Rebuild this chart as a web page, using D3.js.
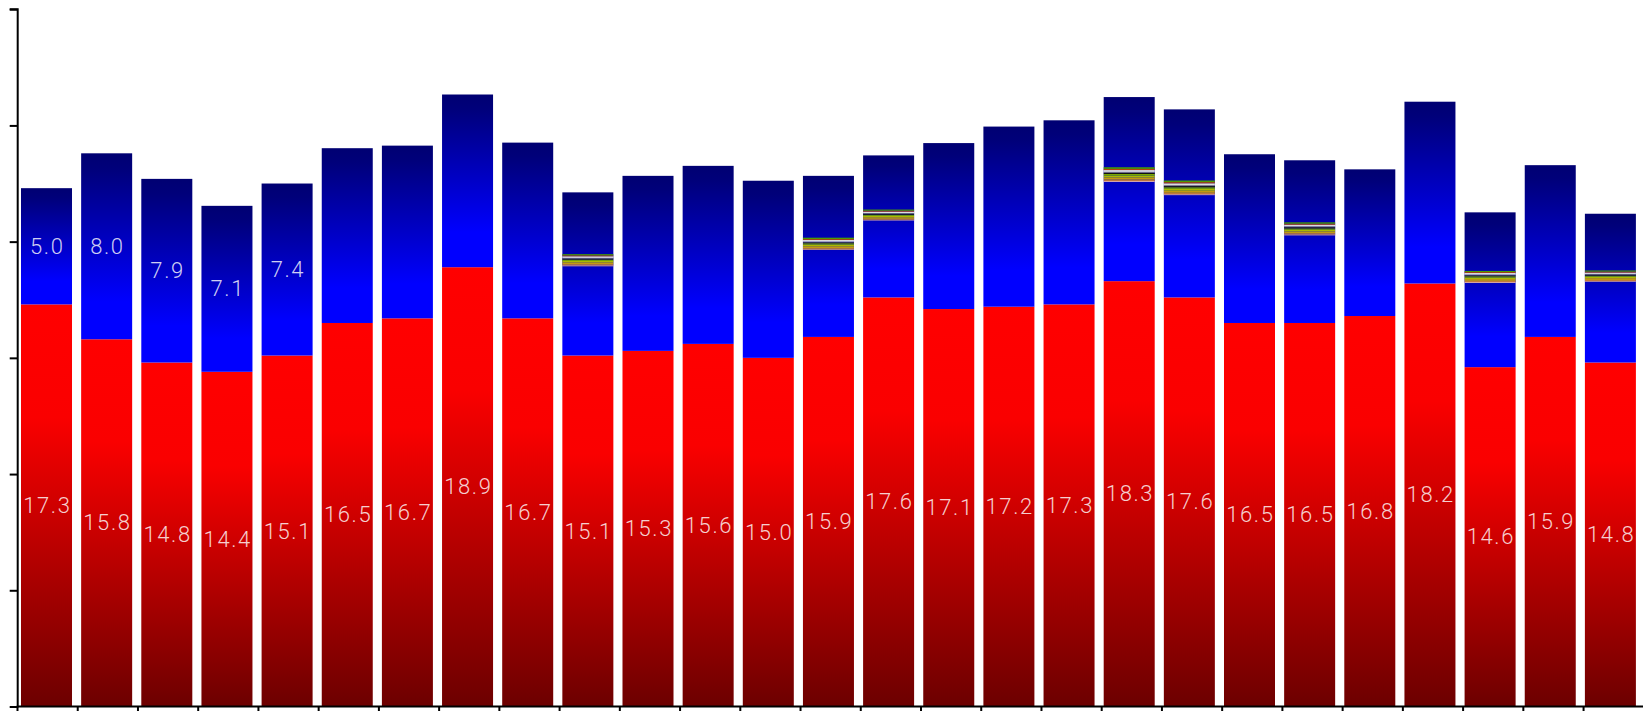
<!DOCTYPE html>
<html>
<head>
<meta charset="utf-8">
<script src="https://cdn.jsdelivr.net/npm/d3@7"></script>
<style>
  html, body { margin: 0; padding: 0; background: #fff; overflow: hidden; }
  svg { display: block; }
  .lbl { font-family: Roboto, "Noto Sans", sans-serif; font-weight: 300; font-size: 22px; fill: #fff; fill-opacity: 0.82; letter-spacing: 1.6px; }
</style>
</head>
<body>
<svg id="chart" width="1643" height="711"></svg>
<script>
// ---------- data ----------
const categories = d3.range(1, 28).map(i => "Item " + i);
const redValues = [17.3,15.8,14.8,14.4,15.1,16.5,16.7,18.9,16.7,15.1,15.3,15.6,15.0,15.9,17.6,17.1,17.2,17.3,18.3,17.6,16.5,16.5,16.8,18.2,14.6,15.9,14.8];
const blueValues = [5.0,8.0,7.9,7.14,7.4,7.52,7.43,7.43,7.56,6.5,7.53,7.66,7.62,6.4,5.64,7.14,7.75,7.92,7.29,7.46,7.26,6.44,6.31,7.82,6.14,7.39,5.91];
const blueLabelCount = 5; // blue values labelled on the first bars only
// part of the blue value lying below the thin stripe series (null = no stripes)
const blueBelowStripes = [null,null,null,null,null,null,null,null,null,3.84,null,null,null,3.74,3.31,null,null,null,4.27,4.40,null,3.77,null,null,3.62,null,3.47];
// thin series, listed bottom to top
const stripeJ = [0,0,0,0,0,0,0,0,0,.04,0,0,0,.03,.03,0,0,0,.04,.04,0,.04,0,0,.04,0,.03];
const stripeI = [0,0,0,0,0,0,0,0,0,.05,0,0,0,.05,.04,0,0,0,.06,.06,0,.05,0,0,.05,0,.05];
const stripeH = [0,0,0,0,0,0,0,0,0,.08,0,0,0,.08,.07,0,0,0,.09,.09,0,.08,0,0,.08,0,.08];
const stripeG = [0,0,0,0,0,0,0,0,0,.06,0,0,0,.07,.06,0,0,0,.08,.08,0,.07,0,0,.06,0,.06];
const stripeF = [0,0,0,0,0,0,0,0,0,.06,0,0,0,.06,.05,0,0,0,.07,.07,0,.06,0,0,.06,0,.05];
const stripeE = [0,0,0,0,0,0,0,0,0,.04,0,0,0,.04,.04,0,0,0,.05,.05,0,.05,0,0,.04,0,.04];
const stripeD = [0,0,0,0,0,0,0,0,0,.03,0,0,0,.03,.03,0,0,0,.04,.04,0,.04,0,0,.03,0,.03];
const stripeC = [0,0,0,0,0,0,0,0,0,.07,0,0,0,.07,.06,0,0,0,.08,.08,0,.07,0,0,.07,0,.06];
const stripeB = [0,0,0,0,0,0,0,0,0,.04,0,0,0,.04,.04,0,0,0,.05,.05,0,.04,0,0,.04,0,.04];
const stripeA = [0,0,0,0,0,0,0,0,0,.05,0,0,0,.06,.05,0,0,0,.07,.07,0,.06,0,0,.05,0,.05];
const stripeSeries = [stripeJ, stripeI, stripeH, stripeG, stripeF, stripeE, stripeD, stripeC, stripeB, stripeA];
const stripeColors = ["#e8b4a8","#c27a3c","#c29a12","#aab800","#78a800","#111111","#808080","#dcdcdc","#b5400a","#4c9a00"];
const yTicks = [0,5,10,15,20,25,30];

// ---------- layout ----------
const W = 1643, H = 711;
const svg = d3.select("#chart");
const y = d3.scaleLinear().domain([0, 30]).range([706.5, 9.2]);
const xAxisScale = d3.scaleBand().domain(categories).range([17.5, 1643.8]);
const xb = d3.scaleBand().domain(categories).range([21, 1635.9]).paddingInner(0.152).paddingOuter(0);

const defs = svg.append("defs");
const gr = defs.append("linearGradient").attr("id", "gRed").attr("x1", 0).attr("y1", 0).attr("x2", 0).attr("y2", 1);
gr.append("stop").attr("offset", "0%").attr("stop-color", "#ff0000");
gr.append("stop").attr("offset", "28%").attr("stop-color", "#fa0000");
gr.append("stop").attr("offset", "100%").attr("stop-color", "#6c0000");
const gb = defs.append("linearGradient").attr("id", "gBlue").attr("x1", 0).attr("y1", 0).attr("x2", 0).attr("y2", 1);
gb.append("stop").attr("offset", "0%").attr("stop-color", "#000072");
gb.append("stop").attr("offset", "8%").attr("stop-color", "#00007a");
gb.append("stop").attr("offset", "80%").attr("stop-color", "#0000ff");
gb.append("stop").attr("offset", "100%").attr("stop-color", "#0000ff");

const rows = categories.map((c, i) => {
  const stripeTotal = d3.sum(stripeSeries, s => s[i]);
  return { c, i, red: redValues[i], blue: blueValues[i], stripeTotal, below: blueBelowStripes[i] };
});

// red bars
svg.append("g").selectAll("rect").data(rows).join("rect")
  .attr("x", d => xb(d.c)).attr("width", xb.bandwidth())
  .attr("y", d => y(d.red)).attr("height", d => y(0) - y(d.red))
  .attr("fill", "url(#gRed)");

// blue bars
svg.append("g").selectAll("rect").data(rows).join("rect")
  .attr("x", d => xb(d.c)).attr("width", xb.bandwidth())
  .attr("y", d => y(d.red + d.blue + d.stripeTotal))
  .attr("height", d => y(d.red) - y(d.red + d.blue + d.stripeTotal))
  .attr("fill", "url(#gBlue)");

// thin stripe series
const stripeG_ = svg.append("g");
rows.filter(d => d.below !== null).forEach(d => {
  let base = d.red + d.below;
  stripeSeries.forEach((s, k) => {
    const v = s[d.i];
    if (!v) return;
    stripeG_.append("rect")
      .attr("x", xb(d.c)).attr("width", xb.bandwidth())
      .attr("y", y(base + v)).attr("height", y(base) - y(base + v))
      .attr("fill", stripeColors[k]);
    base += v;
  });
});

// labels
svg.append("g").selectAll("text").data(rows).join("text")
  .attr("class", "lbl").attr("text-anchor", "middle").attr("dominant-baseline", "central")
  .attr("x", d => xb(d.c) + xb.bandwidth() / 2 + 0.8)
  .attr("y", d => (y(0) + y(d.red)) / 2)
  .text(d => d.red.toFixed(1));
svg.append("g").selectAll("text").data(rows.filter(d => d.i < blueLabelCount)).join("text")
  .attr("class", "lbl").attr("text-anchor", "middle").attr("dominant-baseline", "central")
  .attr("x", d => xb(d.c) + xb.bandwidth() / 2 + 0.8)
  .attr("y", d => (y(d.red) + y(d.red + d.blue)) / 2)
  .text(d => d.blue.toFixed(1));

// axes
const yAxis = d3.axisLeft(y).tickValues(yTicks).tickSize(8).tickFormat("");
const gy = svg.append("g").attr("transform", "translate(17.7,0)").call(yAxis);
gy.selectAll("path, line").attr("stroke", "#000").attr("stroke-width", 2);
gy.select("path.domain").attr("d", `M-8,${y(30)}H0V${y(0) + 1}`);

const gx = svg.append("g").attr("transform", `translate(0,${y(0)})`);
gx.append("line").attr("x1", 16.7).attr("x2", W).attr("y1", 0).attr("y2", 0)
  .attr("stroke", "#000").attr("stroke-width", 2);
gx.selectAll("line.tick").data(categories).join("line").attr("class", "tick")
  .attr("x1", d => xAxisScale(d)).attr("x2", d => xAxisScale(d))
  .attr("y1", 0).attr("y2", 8).attr("stroke", "#000").attr("stroke-width", 2);
</script>
</body>
</html>
